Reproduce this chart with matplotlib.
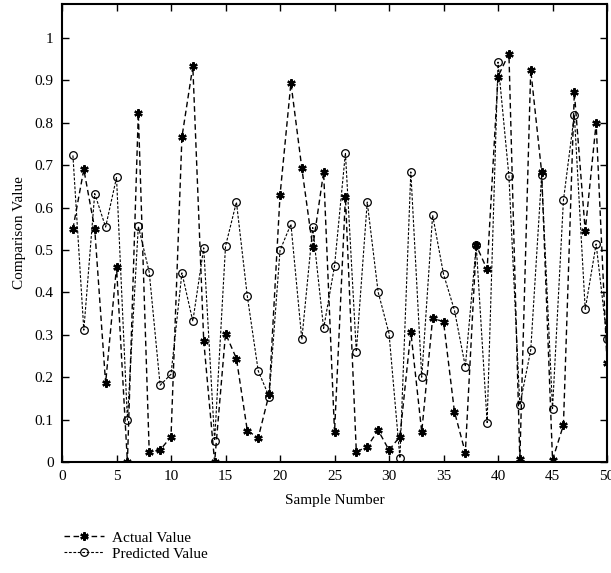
import numpy as np
import matplotlib.pyplot as plt

plt.rcParams['font.family'] = ['Liberation Serif', 'DejaVu Serif']

samples = np.arange(1, 51)
actual = [0.55, 0.69, 0.55, 0.186, 0.46, 0.0, 0.823, 0.024, 0.028, 0.06,
          0.766, 0.933, 0.286, 0.0, 0.303, 0.244, 0.074, 0.057, 0.16, 0.629,
          0.894, 0.693, 0.506, 0.684, 0.07, 0.625, 0.024, 0.036, 0.075, 0.028,
          0.06, 0.307, 0.071, 0.339, 0.331, 0.119, 0.022, 0.511, 0.454, 0.909,
          0.963, 0.006, 0.925, 0.684, 0.005, 0.087, 0.872, 0.545, 0.799, 0.234]
predicted = [0.723, 0.311, 0.633, 0.554, 0.671, 0.099, 0.556, 0.448, 0.181, 0.207,
             0.446, 0.332, 0.505, 0.05, 0.509, 0.613, 0.391, 0.215, 0.154, 0.499,
             0.561, 0.289, 0.553, 0.315, 0.462, 0.729, 0.26, 0.613, 0.401, 0.303,
             0.009, 0.684, 0.2, 0.582, 0.443, 0.358, 0.225, 0.511, 0.093, 0.943,
             0.674, 0.134, 0.264, 0.676, 0.126, 0.617, 0.819, 0.36, 0.514, 0.291]

fig = plt.figure(figsize=(6.11, 5.73), dpi=100)
ax = fig.add_axes([0.1015, 0.1937, 0.892, 0.7993])

# asterisk-like star marker
star = (6, 2, 0)
ax.plot(samples, actual, color='black', linestyle=(0, (4, 2.5)), linewidth=1.0,
        marker=star, markersize=6, markeredgewidth=1.6, label='Actual Value')
ax.plot(samples, predicted, color='black', linestyle=(0, (2.5, 1.5)), linewidth=0.8,
        marker='o', markersize=5.5, markerfacecolor='none', markeredgewidth=0.9,
        label='Predicted Value')

ax.set_xlim(0, 50)
ax.set_ylim(0, 1.08)
ax.set_xticks(np.arange(0, 51, 5))
ax.set_yticks(np.arange(0, 1.01, 0.1))
ax.set_yticklabels(['0', '0.1', '0.2', '0.3', '0.4', '0.5', '0.6', '0.7', '0.8', '0.9', '1'])
ax.tick_params(direction='in', top=True, right=True, length=5, width=1,
               labelsize=11, pad=6)
for s in ax.spines.values():
    s.set_linewidth(1.5)

ax.set_xlabel('Sample Number', fontsize=11, labelpad=8)
ax.set_ylabel('Comparison Value', fontsize=11, labelpad=6)

handles, labels = ax.get_legend_handles_labels()
fig.legend(handles, labels, loc='upper left', bbox_to_anchor=(0.088, 0.092),
           frameon=False, fontsize=11, handlelength=2.6, handletextpad=0.5,
           labelspacing=0.15, borderpad=0.2)

fig.savefig('out.png', dpi=100)
